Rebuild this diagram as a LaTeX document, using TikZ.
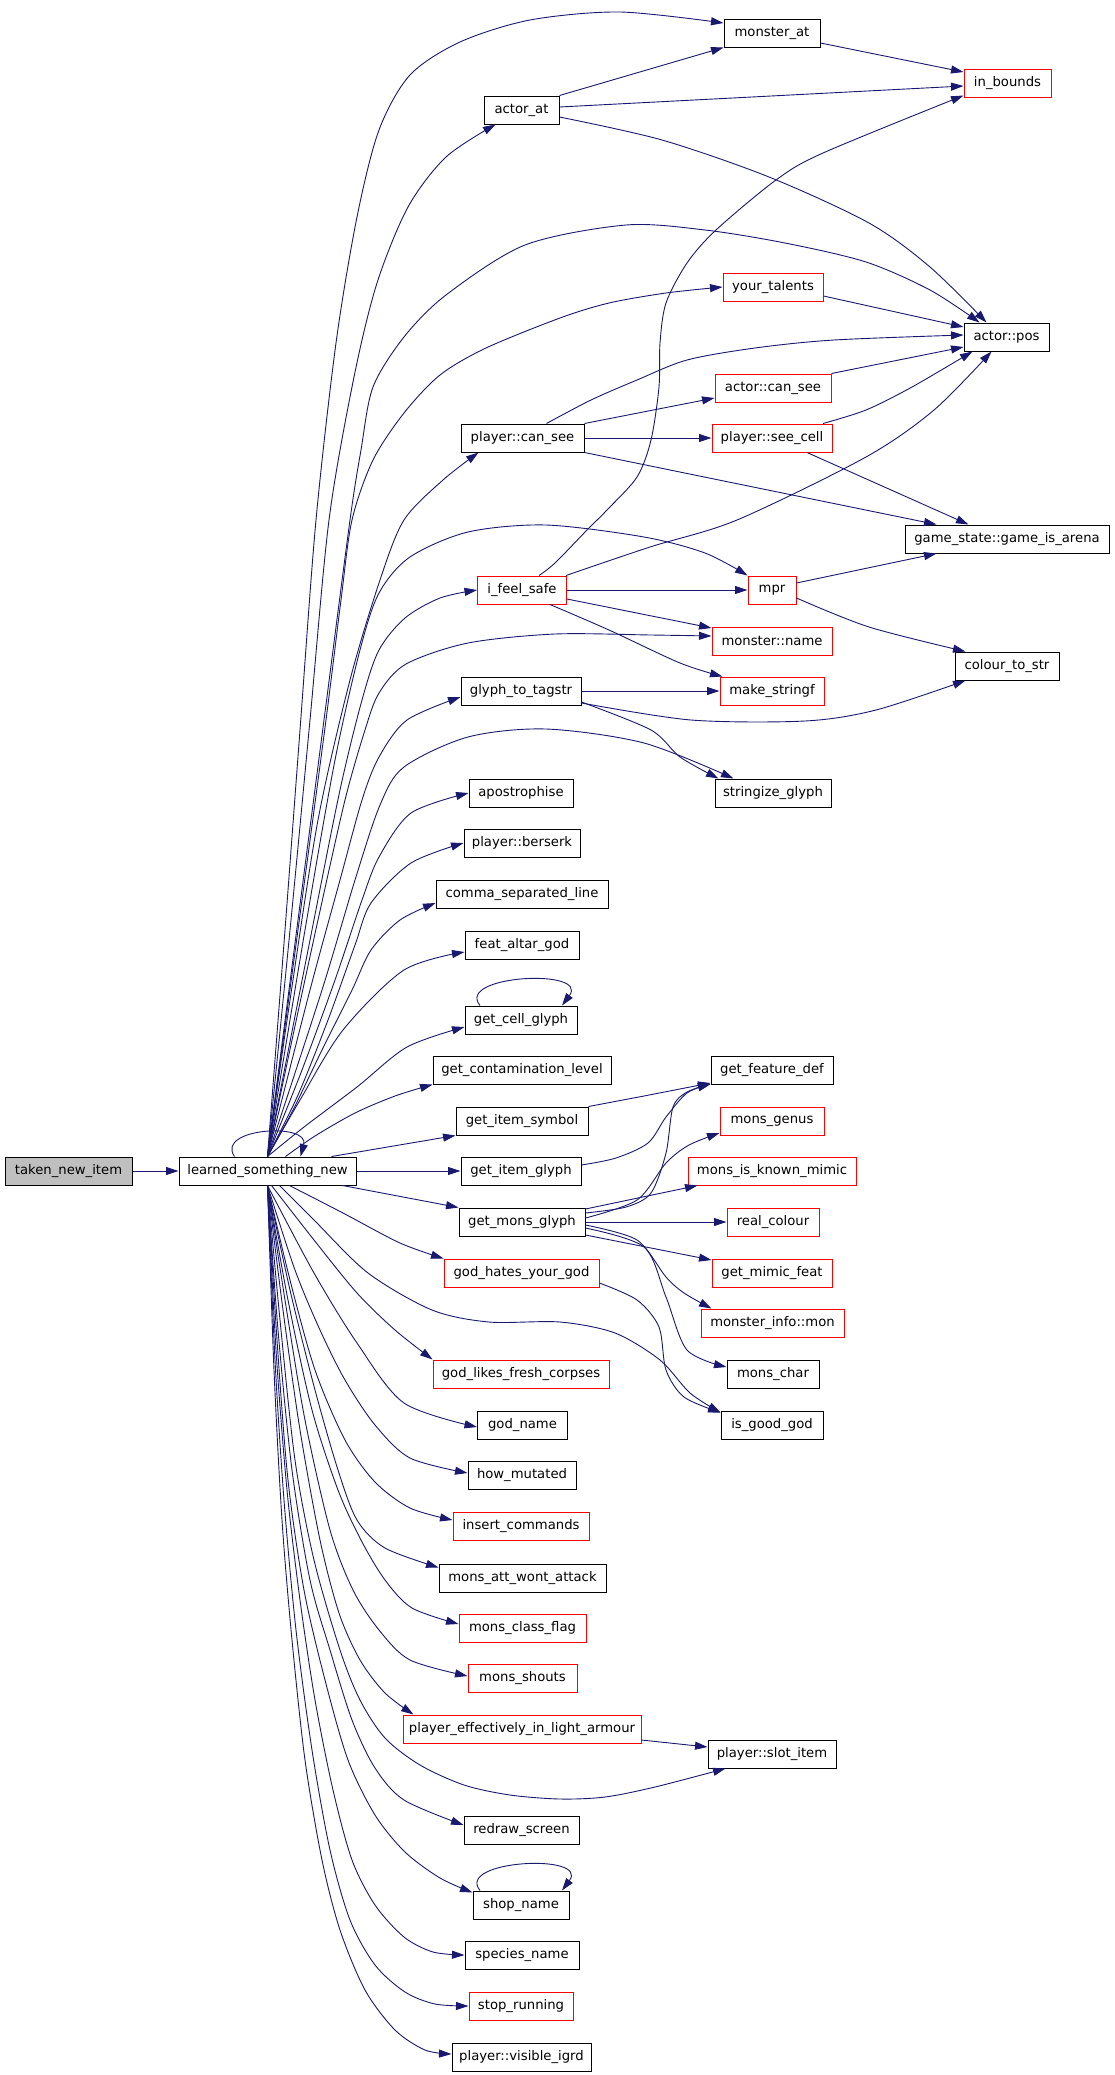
\documentclass[tikz,border=0pt]{standalone}
\usepackage{fontspec}
\setmainfont{DejaVu Sans}
\usetikzlibrary{arrows.meta}
\definecolor{navyc}{HTML}{191970}
\begin{document}
\begin{tikzpicture}[x=1pt,y=-1pt,
  fn/.style={draw=black, line width=1pt, minimum height=28pt, inner sep=0pt, font=\fontsize{13.2}{15}\selectfont},
  rfn/.style={fn, draw=red},
  conn/.style={draw=navyc, line width=0.9pt, -{Triangle[length=12.5pt,width=8pt]}}]
\fill[white] (0,0) rectangle (1115,2075);
\useasboundingbox (0,0) rectangle (1115,2075);
% nodes
\node[fn, fill=gray!50, minimum width=127pt] (tni) at (68.5,1171) {taken\_new\_item};
\node[fn, minimum width=177pt] (L) at (267.5,1171) {learned\_something\_new};
\node[fn, minimum width=96pt] (mat) at (772,33) {monster\_at};
\node[fn, minimum width=75pt] (aat) at (521.5,110) {actor\_at};
\node[rfn, minimum width=87pt] (inb) at (1007.5,83) {in\_bounds};
\node[rfn, minimum width=100pt] (ytal) at (773,287) {your\_talents};
\node[fn, minimum width=85pt] (apos) at (1006.5,337) {actor::pos};
\node[rfn, minimum width=116pt] (acs) at (773,388) {actor::can\_see};
\node[fn, minimum width=123pt] (pcs) at (522.5,438) {player::can\_see};
\node[rfn, minimum width=120pt] (psc) at (772,438) {player::see\_cell};
\node[fn, minimum width=204pt] (gia) at (1007,539) {game\_state::game\_is\_arena};
\node[rfn, minimum width=89pt] (ifs) at (522,590) {i\_feel\_safe};
\node[rfn, minimum width=48pt] (mpr) at (772,590) {mpr};
\node[rfn, minimum width=120pt] (mname) at (772,641) {monster::name};
\node[fn, minimum width=104pt] (cts) at (1007,666) {colour\_to\_str};
\node[fn, minimum width=120pt] (gtt) at (521,691) {glyph\_to\_tagstr};
\node[rfn, minimum width=104pt] (msf) at (772,691) {make\_stringf};
\node[fn, minimum width=116pt] (sgl) at (773,793) {stringize\_glyph};
\node[fn, minimum width=104pt] (apo) at (521,793) {apostrophise};
\node[fn, minimum width=116pt] (pbs) at (522,843) {player::berserk};
\node[fn, minimum width=172pt] (csl) at (522,894) {comma\_separated\_line};
\node[fn, minimum width=114pt] (fag) at (522,945) {feat\_altar\_god};
\node[fn, minimum width=112pt] (gcg) at (521,1020) {get\_cell\_glyph};
\node[fn, minimum width=178pt] (gcl) at (522,1070) {get\_contamination\_level};
\node[fn, minimum width=132pt] (gis) at (522,1121) {get\_item\_symbol};
\node[fn, minimum width=120pt] (gig) at (521,1171) {get\_item\_glyph};
\node[fn, minimum width=126pt] (gmg) at (522,1222) {get\_mons\_glyph};
\node[rfn, minimum width=155pt] (ghy) at (521.5,1273) {god\_hates\_your\_god};
\node[rfn, minimum width=176pt] (glf) at (521,1374) {god\_likes\_fresh\_corpses};
\node[fn, minimum width=90pt] (gnm) at (522.5,1425) {god\_name};
\node[fn, minimum width=108pt] (hmu) at (522,1475) {how\_mutated};
\node[rfn, minimum width=136pt] (icm) at (521,1526) {insert\_commands};
\node[fn, minimum width=167pt] (mawa) at (522.5,1578) {mons\_att\_wont\_attack};
\node[rfn, minimum width=127pt] (mcf) at (522.5,1628) {mons\_class\_flag};
\node[rfn, minimum width=109pt] (msh) at (522.5,1678) {mons\_shouts};
\node[rfn, minimum width=238pt] (pela) at (522,1729) {player\_effectively\_in\_light\_armour};
\node[fn, minimum width=115pt] (rds) at (521.5,1830) {redraw\_screen};
\node[fn, minimum width=96pt] (shn) at (521,1905) {shop\_name};
\node[fn, minimum width=114pt] (spn) at (522,1955) {species\_name};
\node[rfn, minimum width=104pt] (stp) at (521,2006) {stop\_running};
\node[fn, minimum width=139pt] (pvi) at (521.5,2057) {player::visible\_igrd};
\node[fn, minimum width=122pt] (gfd) at (772,1070) {get\_feature\_def};
\node[rfn, minimum width=104pt] (mge) at (772,1121) {mons\_genus};
\node[rfn, minimum width=168pt] (mkm) at (772,1171) {mons\_is\_known\_mimic};
\node[rfn, minimum width=92pt] (rco) at (773,1222) {real\_colour};
\node[rfn, minimum width=120pt] (gmf) at (772,1273) {get\_mimic\_feat};
\node[rfn, minimum width=143pt] (mim) at (772.5,1323) {monster\_info::mon};
\node[fn, minimum width=92pt] (mch) at (773,1374) {mons\_char};
\node[fn, minimum width=102pt] (igg) at (772,1425) {is\_good\_god};
\node[fn, minimum width=128pt] (psi) at (772,1754) {player::slot\_item};
% taken_new_item
\draw[conn] (tni.east) -- (L.west);
% L self loop
\draw[conn] ([xshift=-33pt]L.north) .. controls (215,1128) and (310,1122) .. ([xshift=33pt]L.north);
% L upward edges
\draw[conn] plot[smooth,tension=0.5] coordinates {(L.north) (285,930) (300,730) (316,520) (336,343) (357,217) (379,130) (410,75) (460,42) (530,20) (620,12) ([yshift=10pt]mat.west)};
\draw[conn] plot[smooth,tension=0.5] coordinates {(L.north) (291,920) (310,720) (329,520) (354,377) (377,283) (408,207) (446,157) ([xshift=12pt]aat.south west)};
\draw[conn] plot[smooth,tension=0.5] coordinates {(L.north) (298,920) (324,720) (350,520) (361,450) (373,387) (404,337) (446,295) (525,245) (626,225) (705,230) (785,243) (866,262) (930,290) ([xshift=16pt]apos.north west)};
\draw[conn] plot[smooth,tension=0.5] coordinates {(L.north) (302,900) (326,720) (341,600) (352,520) (373,460) (404,413) (440,375) (486,348) (560,318) (609,303) (666,293) (ytal.west)};
\draw[conn] plot[smooth,tension=0.5] coordinates {(L.north) (290,1000) (318,820) (350,680) (380,580) (404,520) (443,480) ([xshift=18pt]pcs.south west)};
\draw[conn] plot[smooth,tension=0.5] coordinates {(L.north) (305,930) (335,760) (360,650) (379,593) (410,557) (468,532) (546,525) (644,537) (705,553) (mpr.north west)};
\draw[conn] plot[smooth,tension=0.5] coordinates {(L.north) (310,940) (340,790) (362,700) (379,650) (405,618) (440,598) (ifs.west)};
\draw[conn] plot[smooth,tension=0.5] coordinates {(L.north) (292,1040) (318,920) (345,800) (365,730) (379,693) (406,664) (468,643) (555,634) (651,635) ([yshift=5pt]mname.west)};
\draw[conn] plot[smooth,tension=0.5] coordinates {(L.north) (310,990) (340,880) (362,800) (379,757) (407,720) ([yshift=-6pt]gtt.west)};
\draw[conn] plot[smooth,tension=0.5] coordinates {(L.north) (322,990) (355,880) (380,805) (404,767) (468,737) (546,729) (644,743) ([xshift=19pt]sgl.north west)};
\draw[conn] plot[smooth,tension=0.5] coordinates {(L.north) (302,1070) (335,980) (362,900) (379,857) (411,813) (apo.west)};
\draw[conn] plot[smooth,tension=0.5] coordinates {(L.north) (298,1095) (328,1020) (355,945) (371,903) (411,863) (pbs.west)};
\draw[conn] plot[smooth,tension=0.5] coordinates {(L.north) (293,1110) (322,1050) (352,990) (371,950) (400,920) ([yshift=-9pt]csl.west)};
\draw[conn] plot[smooth,tension=0.5] coordinates {(L.north) (300,1100) (343,1030) (404,970) ([yshift=-7pt]fag.west)};
\draw[conn] plot[smooth,tension=0.5] coordinates {(L.north) (304,1127) (357,1087) (407,1047) ([yshift=-7pt]gcg.west)};
\draw[conn] plot[smooth,tension=0.5] coordinates {([xshift=18pt]L.north) (315,1136) (355,1113) (395,1096) (gcl.south west)};
\draw[conn] ([xshift=64pt]L.north) -- (gis.south west);
\draw[conn] (L.east) -- (gig.west);
% L downward edges
\draw[conn] ([xshift=75pt]L.south) -- (gmg.north west);
\draw[conn] plot[smooth,tension=0.5] coordinates {([xshift=22pt]L.south) (343,1213) (400,1243) (ghy.north west)};
\draw[conn] plot[smooth,tension=0.5] coordinates {([xshift=12pt]L.south) (314,1220) (368,1273) (432,1310) (489,1322) (560,1322) (615,1333) (660,1360) (690,1393) ([yshift=-2pt]igg.north west)};
\draw[conn] plot[smooth,tension=0.5] coordinates {([xshift=4pt]L.south) (314,1240) (357,1293) (395,1330) (glf.north west)};
\draw[conn] plot[smooth,tension=0.5] coordinates {(L.south) (314,1273) (357,1343) (404,1403) ([yshift=-2pt]gnm.west)};
\draw[conn] plot[smooth,tension=0.5] coordinates {(L.south) (295,1270) (320,1330) (345,1380) (375,1425) (410,1458) ([yshift=2pt]hmu.west)};
\draw[conn] plot[smooth,tension=0.5] coordinates {(L.south) (290,1280) (315,1370) (345,1440) (375,1482) (410,1508) ([yshift=6pt]icm.west)};
\draw[conn] plot[smooth,tension=0.5] coordinates {(L.south) (290,1290) (315,1390) (338,1470) (357,1520) (385,1548) ([yshift=-4pt]mawa.north west)};
\draw[conn] plot[smooth,tension=0.5] coordinates {(L.south) (288,1300) (312,1410) (338,1490) (361,1540) (385,1580) (412,1608) ([yshift=4pt]mcf.west)};
\draw[conn] plot[smooth,tension=0.5] coordinates {(L.south) (285,1300) (305,1420) (330,1530) (353,1590) (379,1630) (410,1660) ([yshift=2pt]msh.west)};
\draw[conn] plot[smooth,tension=0.5] coordinates {(L.south) (283,1310) (300,1430) (320,1540) (339,1613) (360,1660) (385,1693) ([xshift=11pt]pela.north west)};
\draw[conn] plot[smooth,tension=0.5] coordinates {(L.south) (280,1320) (295,1460) (314,1560) (340,1650) (360,1700) (385,1738) (420,1765) (464,1785) (510,1795) (560,1799) (605,1797) (655,1787) ([xshift=18pt]psi.south west)};
\draw[conn] plot[smooth,tension=0.5] coordinates {(L.south) (278,1330) (292,1470) (310,1580) (330,1650) (352,1720) (375,1768) (404,1800) ([yshift=5pt]rds.west)};
\draw[conn] plot[smooth,tension=0.5] coordinates {(L.south) (277,1340) (288,1480) (304,1590) (325,1680) (348,1760) (375,1815) (405,1852) (440,1878) ([yshift=-2pt]shn.north west)};
\draw[conn] plot[smooth,tension=0.5] coordinates {(L.south) (276,1350) (287,1490) (300,1600) (315,1700) (333,1790) (352,1860) (375,1905) (404,1937) (433,1952) (spn.west)};
\draw[conn] plot[smooth,tension=0.5] coordinates {(L.south) (275,1360) (284,1500) (296,1630) (312,1750) (330,1850) (350,1920) (375,1965) (405,1992) (435,2004) (stp.west)};
\draw[conn] plot[smooth,tension=0.5] coordinates {(L.south) (274,1370) (282,1520) (292,1640) (305,1760) (322,1860) (340,1930) (365,1990) (395,2030) (425,2050) ([yshift=3pt]pvi.west)};
% actor_at
\draw[conn] (aat.north east) -- (mat.south west);
\draw[conn] ([yshift=3pt]aat.east) -- ([yshift=-3pt]inb.west);
\draw[conn] plot[smooth,tension=0.5] coordinates {([yshift=-7pt]aat.east) (662,140) (769,177) (869,223) (930,267) ([xshift=23pt]apos.north west)};
\draw[conn] ([yshift=-10pt]mat.east) -- ([yshift=11pt]inb.west);
\draw[conn] ([yshift=-9pt]ytal.east) -- ([yshift=10pt]apos.west);
% player::can_see
\draw[conn] plot[smooth,tension=0.5] coordinates {([xshift=24pt]pcs.north) (591,400) (637,380) (687,360) (755,348) (834,340) ([yshift=2pt]apos.west)};
\draw[conn] (pcs.north east) -- ([yshift=-10pt]acs.west);
\draw[conn] (pcs.east) -- (psc.west);
\draw[conn] (pcs.south east) -- ([xshift=32pt]gia.north west);
\draw[conn] (acs.north east) -- ([yshift=-10pt]apos.west);
\draw[conn] plot[smooth,tension=0.5] coordinates {([xshift=51pt]psc.north) (866,410) (912,387) ([xshift=9pt]apos.south west)};
\draw[conn] ([xshift=35pt]psc.south) -- ([xshift=64pt]gia.north west);
% i_feel_safe
\draw[conn] plot[smooth,tension=0.5] coordinates {([xshift=17pt]ifs.north) (555,563) (587,530) (607,510) (637,477) (651,440) (659,387) (660,343) (666,303) (687,263) (716,230) (776,180) (823,153) ([yshift=2pt]inb.south west)};
\draw[conn] plot[smooth,tension=0.5] coordinates {([xshift=-1pt]ifs.north east) (650,547) (737,520) (866,457) (934,410) ([xshift=28pt]apos.south west)};
\draw[conn] (ifs.east) -- (mpr.west);
\draw[conn] ([yshift=-9pt]ifs.east) -- ([yshift=13pt]mname.west);
\draw[conn] plot[smooth,tension=0.5] coordinates {([xshift=28pt]ifs.south) (609,630) (680,663) ([xshift=3pt]msf.north west)};
% mpr
\draw[conn] ([yshift=7pt]mpr.east) -- ([xshift=32pt]gia.south west);
\draw[conn] plot[smooth,tension=0.5] coordinates {([yshift=-8pt]mpr.east) (869,627) ([xshift=11pt]cts.north west)};
% glyph_to_tagstr
\draw[conn] (gtt.east) -- (msf.west);
\draw[conn] plot[smooth,tension=0.5] coordinates {([yshift=-12pt]gtt.east) (691,720) (805,721) (876,710) ([xshift=11pt]cts.south west)};
\draw[conn] plot[smooth,tension=0.5] coordinates {([yshift=-11pt]gtt.east) (651,730) (680,757) ([xshift=4pt]sgl.north west)};
% get_cell_glyph loop
\draw[conn] ([xshift=-41pt]gcg.north) .. controls (455,975) and (590,968) .. ([xshift=41pt]gcg.north);
% feature def etc
\draw[conn] (gis.north east) -- (644,1096) -- ([yshift=-13pt]gfd.west);
\draw[conn] plot[smooth,tension=0.5] coordinates {([yshift=6pt]gig.east) (616,1158) (648,1143) (666,1117) (687,1093) ([yshift=-14pt]gfd.west)};
\draw[conn] plot[smooth,tension=0.5] coordinates {([yshift=9pt]gmg.east) (626,1207) (651,1193) (666,1153) (673,1107) (687,1092) ([yshift=-14pt]gfd.west)};
\draw[conn] plot[smooth,tension=0.5] coordinates {([yshift=4pt]gmg.east) (637,1200) (666,1163) (689,1145) ([yshift=-12pt]mge.west)};
\draw[conn] ([yshift=13pt]gmg.east) -- ([xshift=10pt]mkm.south west);
\draw[conn] (gmg.east) -- (rco.west);
\draw[conn] ([yshift=-13pt]gmg.east) -- ([yshift=13pt]gmf.west);
\draw[conn] plot[smooth,tension=0.5] coordinates {([yshift=-3pt]gmg.east) (637,1240) (666,1277) (684,1293) ([xshift=11pt]mim.north west)};
\draw[conn] plot[smooth,tension=0.5] coordinates {([yshift=-6pt]gmg.east) (644,1247) (666,1297) (687,1350) ([yshift=7pt]mch.west)};
\draw[conn] plot[smooth,tension=0.5] coordinates {([yshift=-10pt]ghy.east) (637,1300) (659,1327) (666,1370) (684,1397) ([yshift=-2pt]igg.north west)};
% armour
\draw[conn] ([yshift=-11pt]pela.east) -- ([yshift=7pt]psi.west);
% shop_name loop
\draw[conn] ([xshift=-41pt]shn.north) .. controls (455,1860) and (590,1853) .. ([xshift=41pt]shn.north);
\end{tikzpicture}
\end{document}
